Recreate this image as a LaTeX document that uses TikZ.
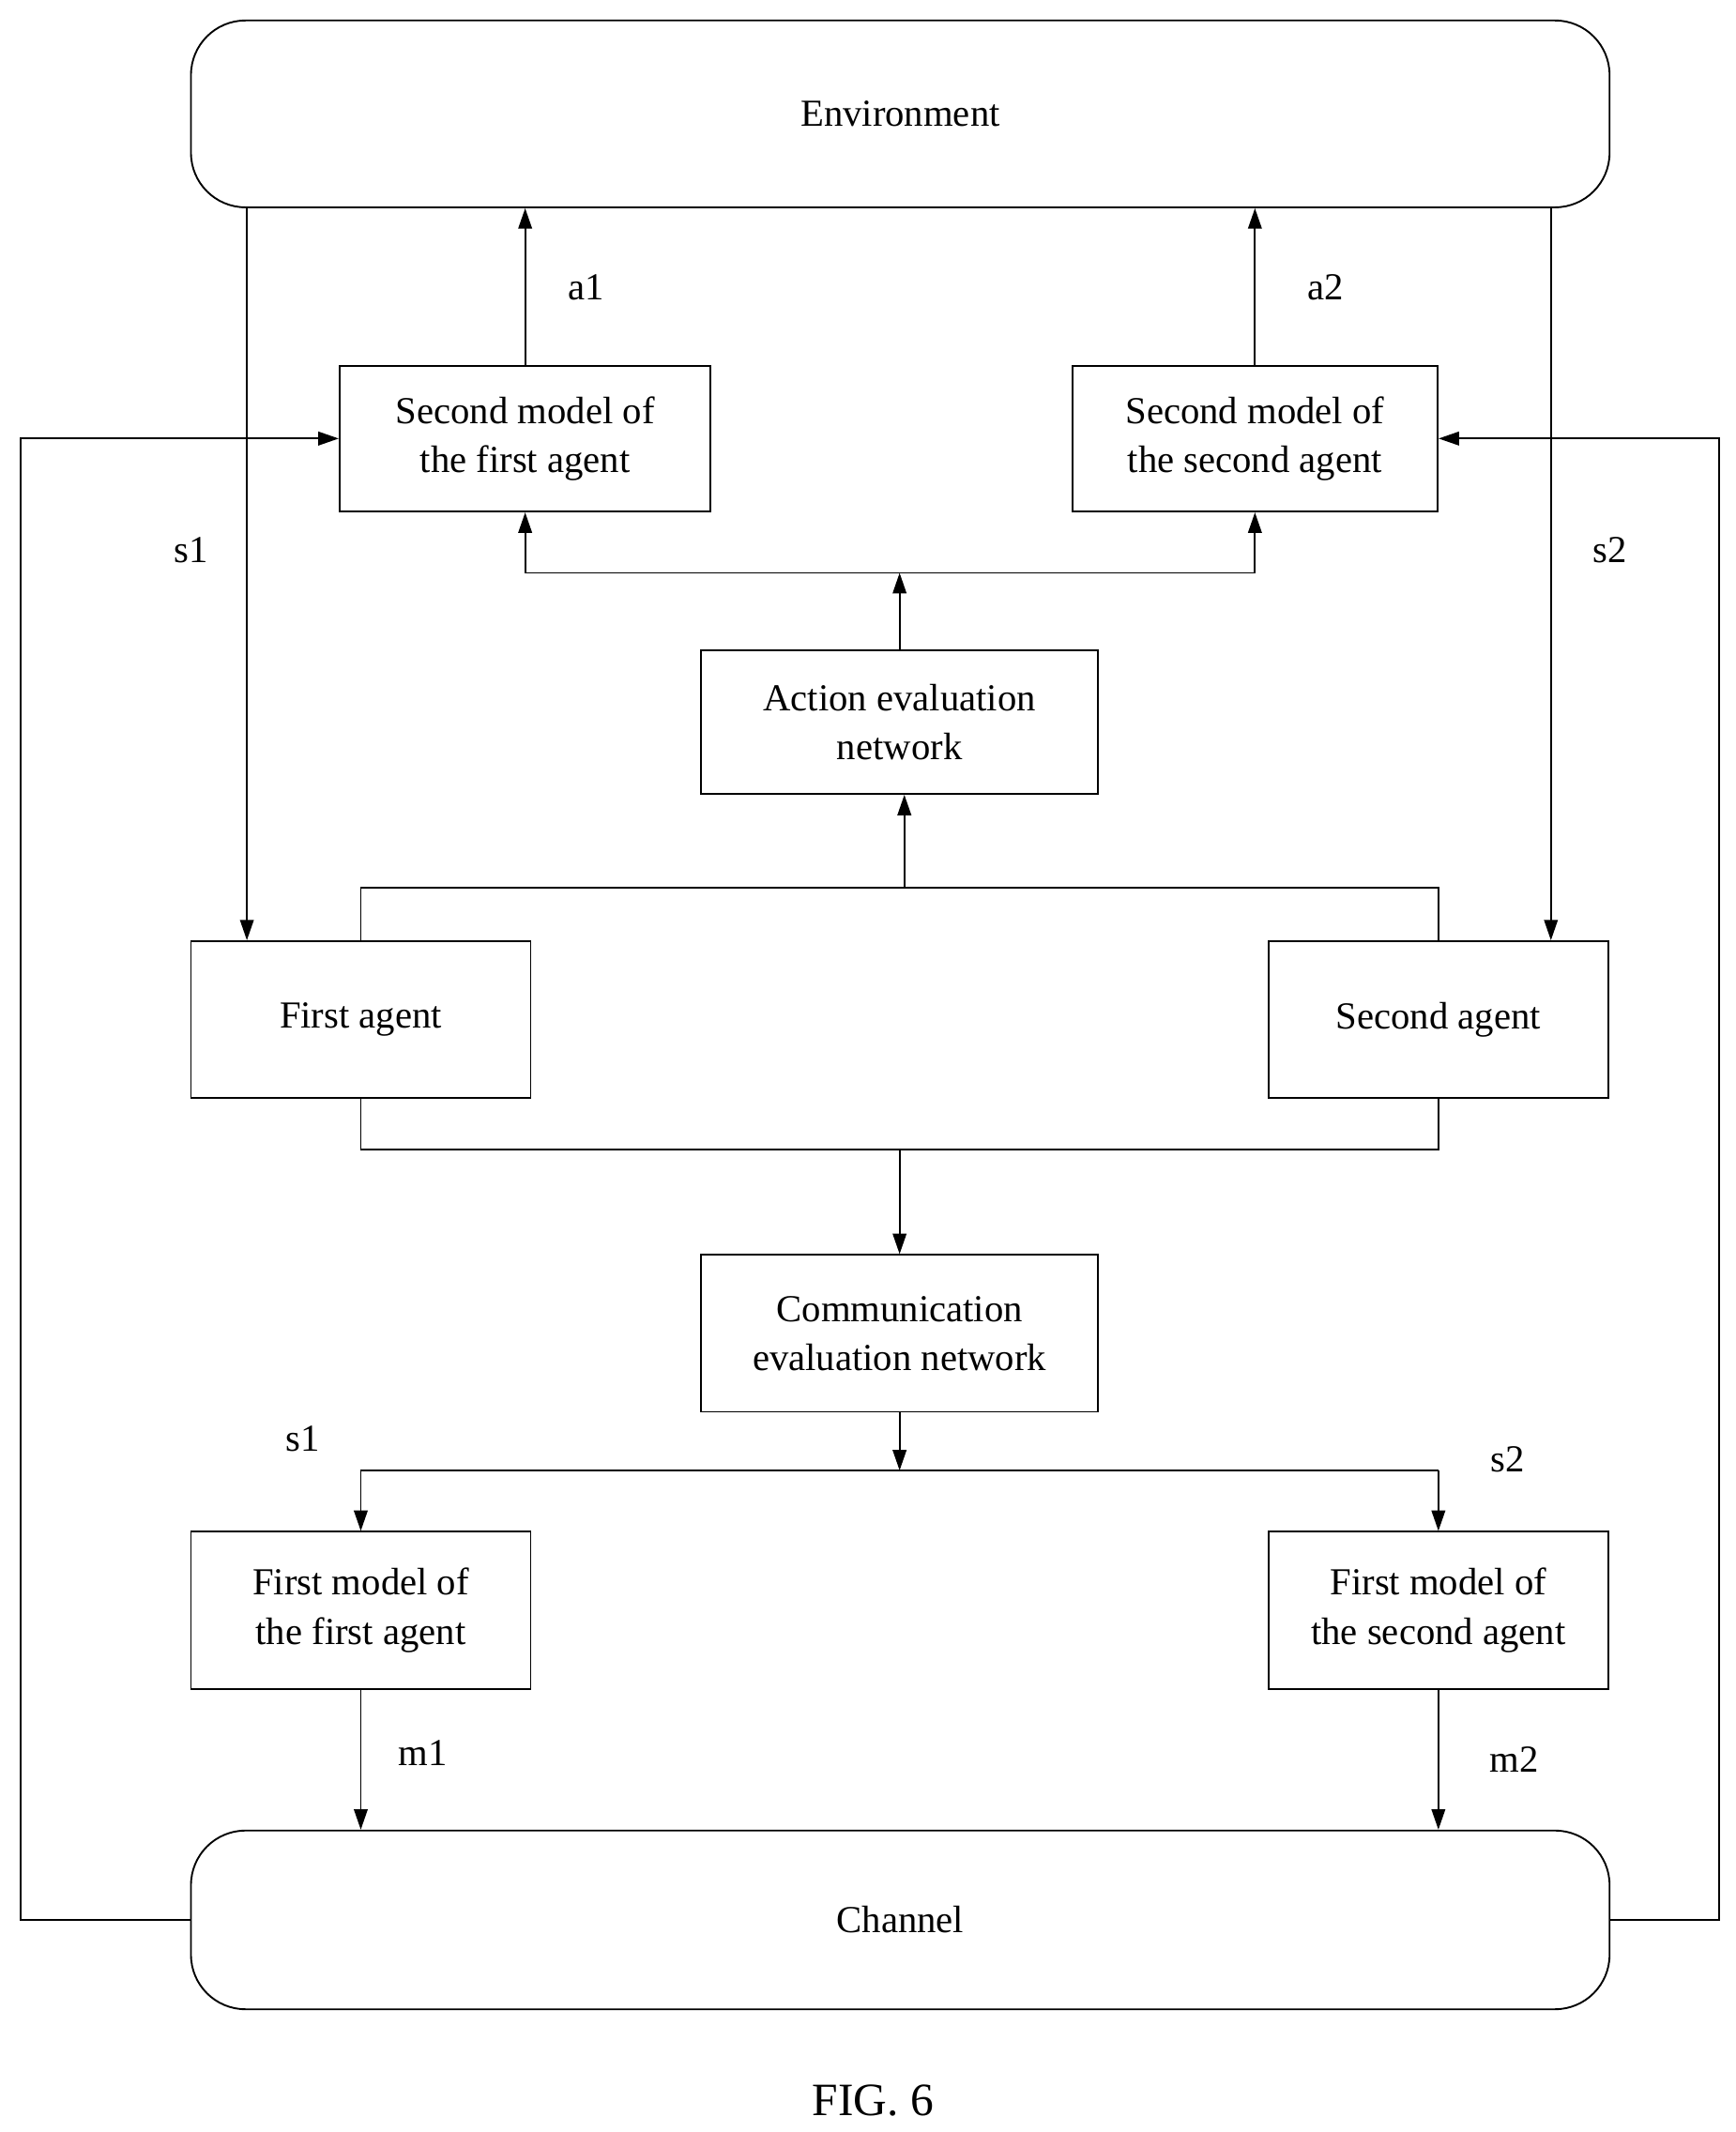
\documentclass[tikz,border=0pt]{standalone}
\usepackage{fontspec}
\setmainfont{Liberation Serif}
\usetikzlibrary{arrows.meta}
\begin{document}
\begin{tikzpicture}[x=1pt,y=-1pt,line width=1.3pt,
 box/.style={draw,rectangle,align=center,font=\fontsize{28}{36}\selectfont},
 lab/.style={font=\fontsize{28}{34}\selectfont},
 arr/.style={-{Triangle[length=15pt,width=10pt]}}]
\useasboundingbox (0,0) rectangle (1272,1563);
\node[box,rounded corners=40pt,minimum width=1040pt,minimum height=137pt] (env) at (660,83.5) {Environment};
\node[box,rounded corners=40pt,minimum width=1040pt,minimum height=131pt] (ch) at (660,1407.5) {Channel};
\node[box,minimum width=272pt,minimum height=107pt] (sm1) at (385,321.5) {Second model of\\the first agent};
\node[box,minimum width=268pt,minimum height=107pt] (sm2) at (920,321.5) {Second model of\\the second agent};
\node[box,minimum width=291pt,minimum height=105pt] (ae) at (659.5,529.5) {Action evaluation\\network};
\node[box,minimum width=249pt,minimum height=115pt] (fa) at (264.5,747.5) {First agent};
\node[box,minimum width=249pt,minimum height=115pt] (sa) at (1054.5,747.5) {Second agent};
\node[box,minimum width=291pt,minimum height=115pt] (ce) at (659.5,977.5) {Communication\\evaluation network};
\node[box,minimum width=249pt,minimum height=115pt] (fm1) at (264.5,1180.5) {First model of\\the first agent};
\node[box,minimum width=249pt,minimum height=115pt] (fm2) at (1054.5,1180.5) {First model of\\the second agent};
\node[font=\fontsize{34}{40}\selectfont] (fig) at (640,1540) {FIG. 6};
% s1, s2
\draw[arr] (181,0|-env.south) -- (181,0|-fa.north);
\draw[arr] (1137,0|-env.south) -- (1137,0|-sa.north);
\node[lab] (ls1) at (140,403) {s1};
\node[lab] (ls2) at (1180,403) {s2};
% a1, a2
\draw[arr] (sm1.north) -- (sm1.north|-env.south);
\draw[arr] (sm2.north) -- (sm2.north|-env.south);
\node[lab] (la1) at (430,211) {a1};
\node[lab] (la2) at (972,211) {a2};
% action eval to second models
\coordinate (j1) at (659.5,420);
\draw[arr] (ae.north) -- (j1);
\draw (sm1.south|-j1) -- (sm2.south|-j1);
\draw[arr] (sm1.south|-j1) -- (sm1.south);
\draw[arr] (sm2.south|-j1) -- (sm2.south);
% agents to action eval
\coordinate (j2) at (663,651);
\draw (fa.north) -- (fa.north|-j2) -- (sa.north|-j2) -- (sa.north);
\draw[arr] (j2) -- (j2|-ae.south);
% agents to comm eval
\coordinate (j3) at (659.5,843);
\draw (fa.south) -- (fa.south|-j3) -- (sa.south|-j3) -- (sa.south);
\draw[arr] (j3) -- (ce.north);
% comm eval to first models
\coordinate (j4) at (659.5,1078);
\draw[arr] (ce.south) -- (j4);
\draw (fm1.north|-j4) -- (fm2.north|-j4);
\draw[arr] (fm1.north|-j4) -- (fm1.north);
\draw[arr] (fm2.north|-j4) -- (fm2.north);
\node[lab] (ls1b) at (222,1055) {s1};
\node[lab] (ls2b) at (1105,1070) {s2};
% m1, m2
\draw[arr] (fm1.south) -- (fm1.south|-ch.north);
\draw[arr] (fm2.south) -- (fm2.south|-ch.north);
\node[lab] (lm1) at (310,1285) {m1};
\node[lab] (lm2) at (1110,1290) {m2};
% channel feedback
\draw[arr] (ch.west) -- (15,1407.5) -- (15,321.5) -- (sm1.west);
\draw[arr] (ch.east) -- (1260,1407.5) -- (1260,321.5) -- (sm2.east);
\end{tikzpicture}
\end{document}
